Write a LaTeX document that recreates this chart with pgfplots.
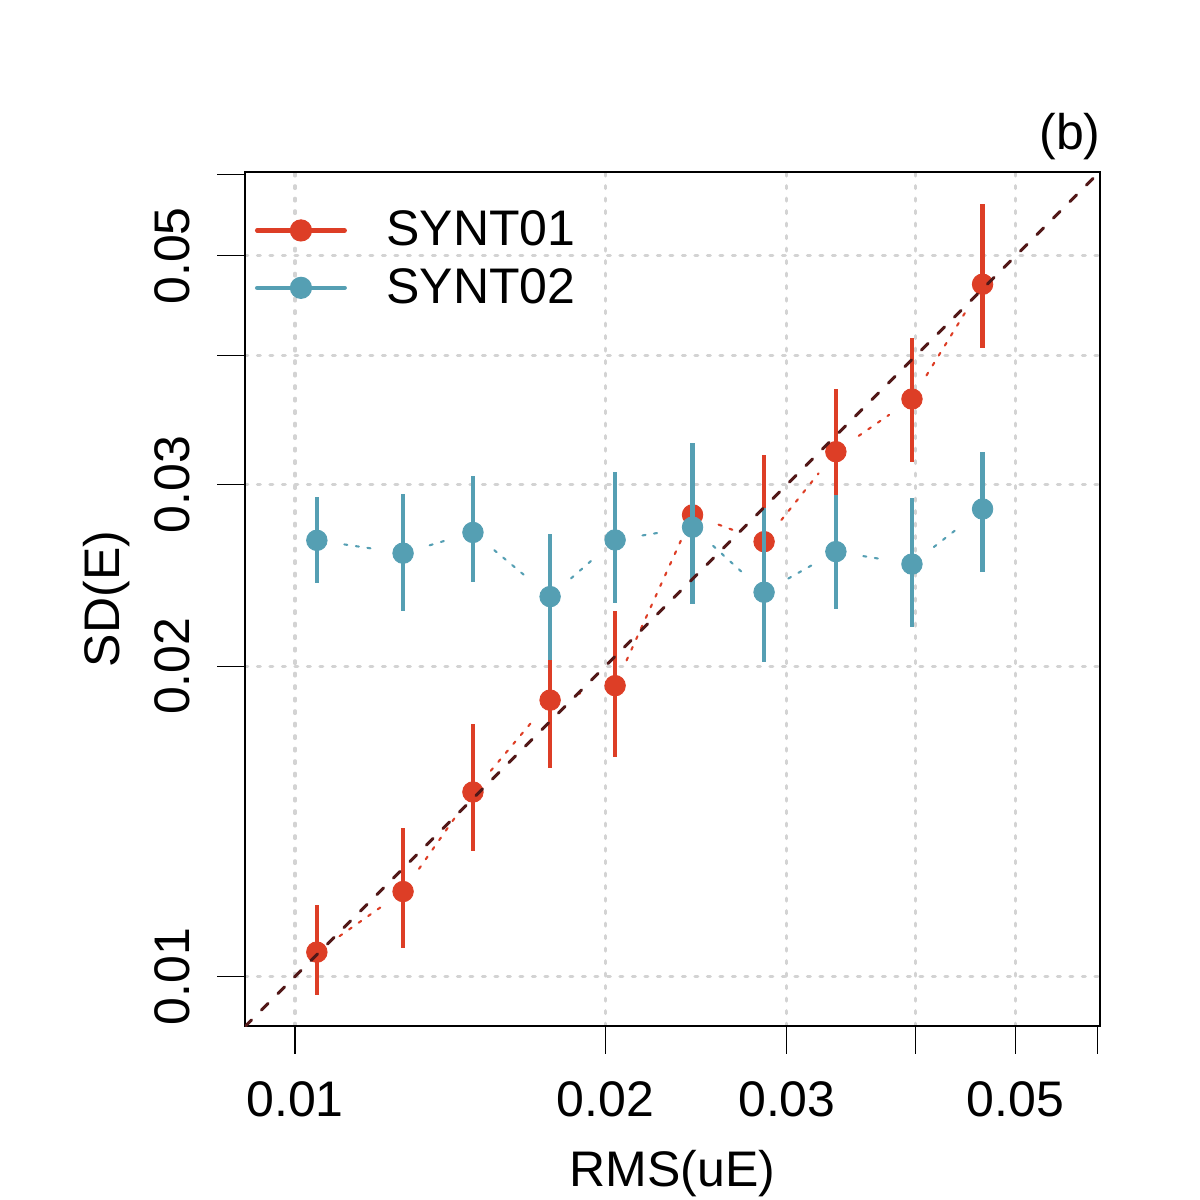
\documentclass[border=0pt]{standalone}
\usepackage{pgfplots}
\pgfplotsset{compat=1.18}
\usepackage{fontspec}
\setmainfont{Liberation Sans}
\definecolor{cred}{RGB}{221,62,38}
\definecolor{cblue}{RGB}{85,159,179}
\definecolor{cdiag}{RGB}{82,24,24}
\definecolor{cgrid}{RGB}{211,211,211}
\newcommand{\ff}{\fontsize{18bp}{21.6bp}\selectfont}
\pgfplotsset{
  segred/.style={cred, line width=0.75bp, dash pattern=on 1.1bp off 3.1bp, line cap=round, shorten <=10bp, shorten >=10bp, mark=none, forget plot},
  segblue/.style={cblue, line width=0.75bp, dash pattern=on 1.1bp off 3.1bp, line cap=round, shorten <=10bp, shorten >=10bp, mark=none, forget plot},
  pts/.style={only marks, mark=*, mark size=3.7bp, mark options={line width=0.3bp, solid}, forget plot,
    error bars/y dir=both, error bars/y explicit, error bars/error mark=none,
    error bars/error bar style={line width=1.6bp, line cap=butt, solid}},
}
\begin{document}
\begin{tikzpicture}
\begin{axis}[
  name=ax,
  width=307.8bp, height=307.44bp, scale only axis,
  xmode=log, ymode=log,
  xmin=0.008943, xmax=0.060368, ymin=0.008953, ymax=0.06030,
  axis line style={black, line width=1bp},
  xtick={0.01,0.02,0.03,0.04,0.05},
  xticklabels={0.01,0.02,0.03,,0.05},
  ytick={0.01,0.02,0.03,0.04,0.05},
  yticklabels={0.01,0.02,0.03,,0.05},
  extra x ticks={0.06}, extra x tick labels={},
  extra y ticks={0.06}, extra y tick labels={},
  extra tick style={grid=none},
  minor tick num=0,
  xtick pos=left, ytick pos=left,
  tick align=outside,
  major tick length=10bp,
  tick style={black, line width=0.4bp},
  grid=major,
  major grid style={cgrid, line width=1.1bp, dash pattern=on 1bp off 3.5bp, line cap=round},
  tick label style={font=\ff},
  /pgf/number format/assume math mode=true,
  xticklabel style={anchor=base, yshift=-22.6bp},
  yticklabel style={xshift=-10bp, rotate=90, anchor=base},
  xlabel={RMS(uE)}, ylabel={SD(E)},
  label style={font=\ff},
  xlabel style={at={(axis description cs:0.5,-0.1874)}, anchor=base},
  ylabel style={at={(axis description cs:-0.1462,0.5)}, anchor=base},
  title={(b)},
  every axis title shift=0pt,
  title style={font=\ff, at={(axis description cs:1.0012,1.0258)}, anchor=base east, inner sep=0pt},
  clip mode=individual,
  legend style={draw=none, fill=none, font=\ff, at={(axis description cs:0.0117,0.898)}, anchor=west,
    inner sep=0pt, outer sep=0pt, row sep=6.6bp, column sep=14.3bp,
    nodes={inner sep=0pt}},
  legend cell align=left,
  legend image code/.code={
    \draw[line width=1.6bp, line cap=round, solid] (0.8bp,0bp) -- (32.3bp,0bp);
    \fill (16.55bp,0bp) circle (3.8bp);
  },
]
\addlegendimage{cred}
\addlegendentry{SYNT01}
\addlegendimage{cblue}
\addlegendentry{SYNT02}

% SYNT01 connecting dotted segments
\addplot[segred] coordinates {(0.01050,0.01056) (0.01273,0.01209)};
\addplot[segred] coordinates {(0.01273,0.01209) (0.01488,0.01510)};
\addplot[segred] coordinates {(0.01488,0.01510) (0.01768,0.01854)};
\addplot[segred] coordinates {(0.01768,0.01854) (0.02044,0.01915)};
\addplot[segred] coordinates {(0.02044,0.01915) (0.02430,0.02804)};
\addplot[segred] coordinates {(0.02430,0.02804) (0.02851,0.02641)};
\addplot[segred] coordinates {(0.02851,0.02641) (0.03347,0.03229)};
\addplot[segred] coordinates {(0.03347,0.03229) (0.03967,0.03632)};
\addplot[segred] coordinates {(0.03967,0.03632) (0.04644,0.04693)};
% SYNT01 points with intervals
\addplot[pts, cred] coordinates {
  (0.01050,0.01056) += (0,0.00118) -= (0,0.00096)
  (0.01273,0.01209) += (0,0.00185) -= (0,0.00144)
  (0.01488,0.01510) += (0,0.00247) -= (0,0.00187)
  (0.01768,0.01854) += (0,0.00323) -= (0,0.00260)
  (0.02044,0.01915) += (0,0.00347) -= (0,0.00281)
  (0.02430,0.02804) += (0,0.00488) -= (0,0.00406)
  (0.02851,0.02641) += (0,0.00564) -= (0,0.00323)
  (0.03347,0.03229) += (0,0.00483) -= (0,0.00457)
  (0.03967,0.03632) += (0,0.00527) -= (0,0.00479)
  (0.04644,0.04693) += (0,0.00917) -= (0,0.00620)
};

% SYNT02 connecting dotted segments
\addplot[segblue] coordinates {(0.01050,0.02649) (0.01273,0.02574)};
\addplot[segblue] coordinates {(0.01273,0.02574) (0.01488,0.02696)};
\addplot[segblue] coordinates {(0.01488,0.02696) (0.01768,0.02336)};
\addplot[segblue] coordinates {(0.01768,0.02336) (0.02044,0.02651)};
\addplot[segblue] coordinates {(0.02044,0.02651) (0.02430,0.02728)};
\addplot[segblue] coordinates {(0.02430,0.02728) (0.02851,0.02359)};
\addplot[segblue] coordinates {(0.02851,0.02359) (0.03347,0.02583)};
\addplot[segblue] coordinates {(0.03347,0.02583) (0.03967,0.02512)};
\addplot[segblue] coordinates {(0.03967,0.02512) (0.04644,0.02841)};
% SYNT02 points with intervals
\addplot[pts, cblue] coordinates {
  (0.01050,0.02649) += (0,0.00271) -= (0,0.00242)
  (0.01273,0.02574) += (0,0.00365) -= (0,0.00310)
  (0.01488,0.02696) += (0,0.00360) -= (0,0.00281)
  (0.01768,0.02336) += (0,0.00351) -= (0,0.00308)
  (0.02044,0.02651) += (0,0.00433) -= (0,0.00350)
  (0.02430,0.02728) += (0,0.00562) -= (0,0.00430)
  (0.02851,0.02359) += (0,0.00486) -= (0,0.00342)
  (0.03347,0.02583) += (0,0.00348) -= (0,0.00311)
  (0.03967,0.02512) += (0,0.00398) -= (0,0.00328)
  (0.04644,0.02841) += (0,0.00384) -= (0,0.00371)
};

% identity line
\addplot[cdiag, line width=1.1bp, dash pattern=on 3.4bp off 5bp, line cap=round, forget plot]
  coordinates {(0.008943,0.008943) (0.0604,0.0604)};
\end{axis}
\pgfresetboundingbox
\path[use as bounding box] ([shift={(-88.2bp,-62.64bp)}]ax.south west) rectangle ([shift={(36bp,61.92bp)}]ax.north east);
\end{tikzpicture}
\end{document}
